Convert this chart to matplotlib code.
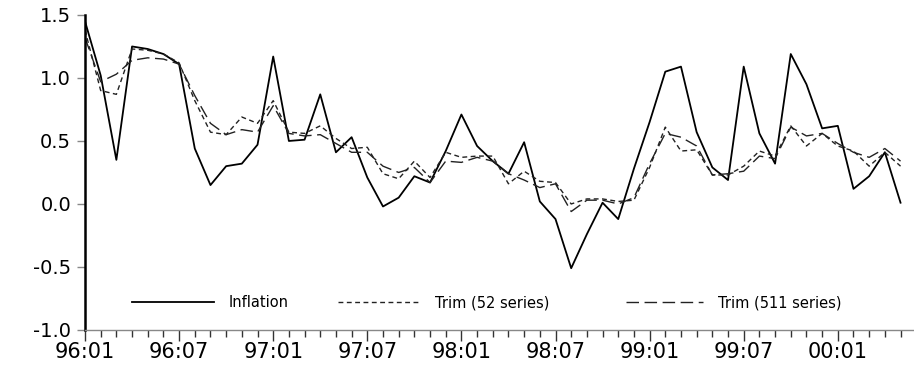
import matplotlib
matplotlib.use("Agg")
import matplotlib.pyplot as plt
from matplotlib.legend import Legend
import numpy as np

plt.rcParams['font.family'] = ['DejaVu Sans']
plt.rcParams['axes.unicode_minus'] = False

# Monthly data 96:01 .. 00:05
inflation = [1.45, 1.02, 0.35, 1.25, 1.23, 1.19, 1.11, 0.44, 0.15, 0.30,
             0.32, 0.47, 1.17, 0.50, 0.51, 0.87, 0.41, 0.53, 0.21, -0.02,
             0.05, 0.22, 0.17, 0.42, 0.71, 0.46, 0.34, 0.24, 0.49, 0.02,
             -0.12, -0.51, -0.24, 0.01, -0.12, 0.28, 0.65, 1.05, 1.09, 0.57,
             0.29, 0.19, 1.09, 0.56, 0.32, 1.19, 0.95, 0.60, 0.62, 0.12,
             0.22, 0.41, 0.01]
trim52 = [1.38, 0.90, 0.87, 1.23, 1.22, 1.19, 1.12, 0.82, 0.57, 0.55,
          0.69, 0.64, 0.82, 0.57, 0.56, 0.62, 0.52, 0.44, 0.45, 0.24,
          0.20, 0.34, 0.21, 0.41, 0.37, 0.38, 0.38, 0.16, 0.26, 0.18,
          0.17, 0.00, 0.04, 0.04, 0.02, 0.03, 0.29, 0.61, 0.42, 0.43,
          0.23, 0.23, 0.30, 0.42, 0.38, 0.62, 0.46, 0.56, 0.46, 0.42,
          0.30, 0.41, 0.30]
trim511 = [1.32, 0.97, 1.03, 1.14, 1.16, 1.15, 1.11, 0.86, 0.64, 0.55,
           0.59, 0.57, 0.78, 0.56, 0.54, 0.55, 0.48, 0.41, 0.41, 0.30,
           0.25, 0.29, 0.17, 0.34, 0.33, 0.37, 0.34, 0.24, 0.19, 0.13,
           0.16, -0.06, 0.03, 0.03, 0.00, 0.05, 0.32, 0.56, 0.53, 0.46,
           0.23, 0.24, 0.26, 0.38, 0.36, 0.61, 0.54, 0.56, 0.48, 0.41,
           0.37, 0.44, 0.34]
tick_labels = ["96:01", "96:07", "97:01", "97:07", "98:01", "98:07",
               "99:01", "99:07", "00:01"]
series_names = ["Inflation", "Trim (52 series)", "Trim (511 series)"]

x = np.arange(len(inflation))

fig = plt.figure(figsize=(9.14, 3.65), dpi=100)
ax = fig.add_axes([0.093, 0.096, 0.906, 0.863])

l1, = ax.plot(x, inflation, color='black', lw=1.3, label=series_names[0])
l2, = ax.plot(x, trim52, color='#222222', lw=1.0, dashes=(3.5, 2.5), label=series_names[1])
l3, = ax.plot(x, trim511, color='#222222', lw=1.0, dashes=(9, 4), label=series_names[2])

ax.set_xlim(0, 52.8)
ax.set_ylim(-1.0, 1.5)

ax.set_yticks([-1.0, -0.5, 0.0, 0.5, 1.0, 1.5])
ax.set_yticklabels(["-1.0", "-0.5", "0.0", "0.5", "1.0", "1.5"])
ax.set_xticks(np.arange(0, 49, 6))
ax.set_xticklabels(tick_labels)
ax.set_xticks(np.arange(0, 53, 1), minor=True)

ax.tick_params(axis='y', which='major', direction='out', length=6, width=1,
               color='#888888', labelsize=14, pad=4)
ax.tick_params(axis='x', which='major', direction='out', length=8, width=1,
               color='#333333', labelsize=15, pad=1)
ax.tick_params(axis='x', which='minor', direction='out', length=5, width=1,
               color='#333333')

for s in ['top', 'right']:
    ax.spines[s].set_visible(False)
ax.spines['left'].set_color('black')
ax.spines['left'].set_linewidth(1.8)
ax.spines['bottom'].set_color('#888888')
ax.spines['bottom'].set_linewidth(1.0)

# three legend entries placed like the reference
anchors = [0.057, 0.306, 0.653]
handles = [l1, l2, l3]
hlens = [5.6, 5.6, 5.3]
for h, a, hl in zip(handles, anchors, hlens):
    lg = Legend(ax, [h], [h.get_label()], loc='center left',
                bbox_to_anchor=(a, 0.086), frameon=False, fontsize=10.5,
                handlelength=hl, handletextpad=1.0, borderaxespad=0,
                borderpad=0)
    ax.add_artist(lg)

fig.savefig("out.png", dpi=100)
